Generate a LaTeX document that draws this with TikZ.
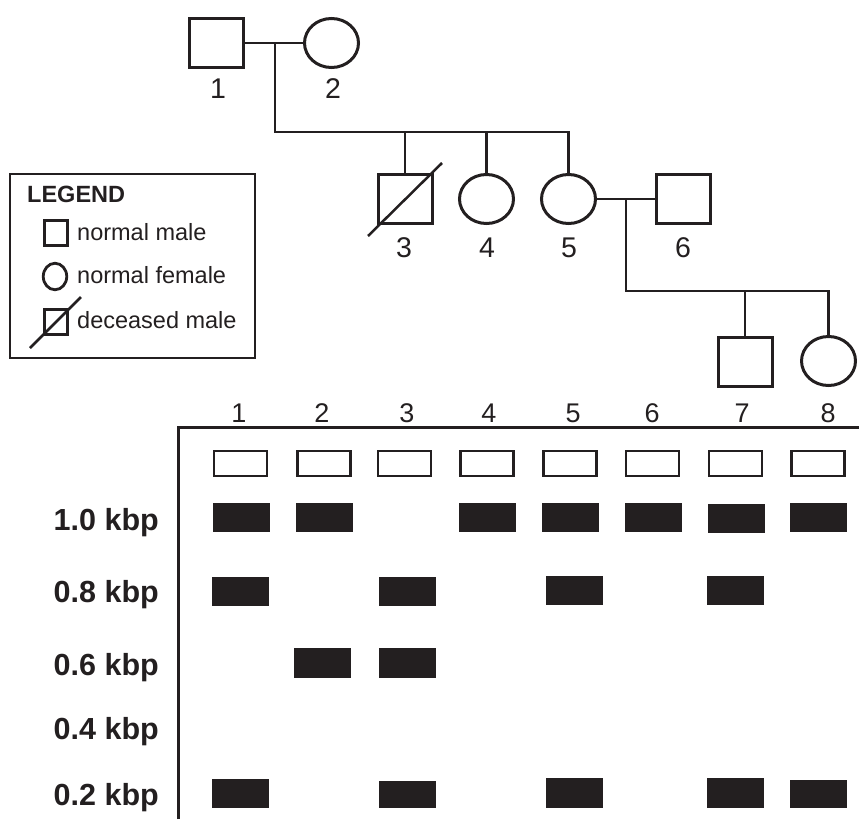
\documentclass[tikz,border=0pt]{standalone}
\usepackage{fontspec}
\setmainfont{Liberation Sans}
\usetikzlibrary{shapes.geometric}
\definecolor{ink}{HTML}{231F20}
\begin{document}
\begin{tikzpicture}[x=1pt,y=-1pt,
  male/.style={draw=ink,line width=3pt,rectangle,minimum width=54pt,minimum height=49pt,inner sep=0pt},
  female/.style={draw=ink,line width=3pt,ellipse,minimum width=54pt,minimum height=49pt,inner sep=0pt},
  conn/.style={draw=ink,line width=2.5pt},
  num/.style={font=\fontsize{28.5}{33}\selectfont,anchor=base,inner sep=0pt,text=ink},
  lane/.style={font=\fontsize{27}{32}\selectfont,anchor=base,inner sep=0pt,text=ink},
  well/.style={draw=ink,line width=2.8pt,rectangle,minimum width=53pt,minimum height=25pt,inner sep=0pt},
  band/.style={fill=ink,rectangle,minimum width=57pt,minimum height=29pt,inner sep=0pt},
  kbp/.style={font=\fontsize{30.5}{36}\selectfont\bfseries,anchor=base east,inner sep=0pt,text=ink},
  legtext/.style={font=\fontsize{23.5}{28}\selectfont,anchor=base west,inner sep=0pt,text=ink},
  lmale/.style={draw=ink,line width=2.8pt,rectangle,minimum width=23.5pt,minimum height=25.5pt,inner sep=0pt},
  lfemale/.style={draw=ink,line width=2.8pt,ellipse,minimum width=23.5pt,minimum height=26.5pt,inner sep=0pt}
]
\useasboundingbox (0,0) rectangle (859,819);

% ---------- pedigree ----------
\node[male]   (i1) at (216.5,43) {};
\node[female] (i2) at (331.5,43) {};
\node[male]   (i3) at (405,199) {};
\node[female] (i4) at (486.5,199) {};
\node[female] (i5) at (568.5,199) {};
\node[male]   (i6) at (683.5,199) {};
\node[male]   (i7) at (745,362) {};
\node[female] (i8) at (828.5,361) {};

\node[num] (n1) at (218,98) {1};
\node[num] (n2) at (333,98) {2};
\node[num] (n3) at (404,257) {3};
\node[num] (n4) at (487,257) {4};
\node[num] (n5) at (569,257) {5};
\node[num] (n6) at (683,257) {6};

\coordinate (m12) at (275,43);
\coordinate (sib1) at (275,132);
\draw[conn] (i1.east) -- (i2.west);
\draw[conn] (m12) -- (sib1) -- (i5.north |- sib1) -- (i5.north);
\draw[conn] (i3.north |- sib1) -- (i3.north);
\draw[conn] (i4.north |- sib1) -- (i4.north);
\draw[conn] ([shift={(-37,37)}]i3.center) -- ([shift={(37,-36)}]i3.center);

\coordinate (m56) at (626,199);
\coordinate (sib2) at (626,291);
\draw[conn] (i5.east) -- (i6.west);
\draw[conn] (m56) -- (sib2) -- (i8.north |- sib2) -- (i8.north);
\draw[conn] (i7.north |- sib2) -- (i7.north);

% ---------- legend ----------
\node[draw=ink,line width=2pt,minimum width=245pt,minimum height=184pt,anchor=north west,inner sep=0pt] (legend) at (9,173) {};
\node[font=\fontsize{23.5}{28}\selectfont\bfseries,anchor=base west,inner sep=0pt,text=ink] (legtitle) at (27,202) {LEGEND};
\node[lmale] (lm) at (56,233) {};
\node[lfemale] (lf) at (55,276.5) {};
\node[lmale] (ld) at (56,322) {};
\draw[conn] ([shift={(-26,26)}]ld.center) -- ([shift={(25,-25)}]ld.center);
\node[legtext] (tm) at (77,240) {normal male};
\node[legtext] (tf) at (77,283) {normal female};
\node[legtext] (td) at (77,328) {deceased male};

% ---------- gel ----------
\coordinate (gbl) at (178,819);
\coordinate (gtl) at (178,427);
\coordinate (gtr) at (859,427);
\draw[draw=ink,line width=3pt] (gbl) -- (gtl) -- (gtr);

\node[lane] (l1) at (239,422) {1};
\node[lane] (l2) at (322,422) {2};
\node[lane] (l3) at (407,422) {3};
\node[lane] (l4) at (489,422) {4};
\node[lane] (l5) at (573,422) {5};
\node[lane] (l6) at (652,422) {6};
\node[lane] (l7) at (742,422) {7};
\node[lane] (l8) at (828,422) {8};

\node[well] (w1) at (240.5,463.5) {};
\node[well] (w2) at (324,463.5) {};
\node[well] (w3) at (404.5,463.5) {};
\node[well] (w4) at (487,463.5) {};
\node[well] (w5) at (570,463.5) {};
\node[well] (w6) at (652.5,463.5) {};
\node[well] (w7) at (735.5,463.5) {};
\node[well] (w8) at (818,463.5) {};

% 1.0 kbp
\node[band] (a1) at (241,517.5) {};
\node[band] (a2) at (324,517.5) {};
\node[band] (a4) at (487.5,517.5) {};
\node[band] (a5) at (570.5,517.5) {};
\node[band] (a6) at (653,517) {};
\node[band] (a7) at (736.5,518.5) {};
\node[band] (a8) at (818.5,517.5) {};
% 0.8 kbp
\node[band] (b1) at (240.5,591) {};
\node[band] (b3) at (407,591) {};
\node[band] (b5) at (574.5,590.5) {};
\node[band] (b7) at (735.5,590.5) {};
% 0.6 kbp
\node[band,minimum height=30pt] (c2) at (322.5,663) {};
\node[band,minimum height=30pt] (c3) at (407,663) {};
% 0.2 kbp
\node[band] (e1) at (240.5,793.5) {};
\node[band,minimum height=27pt] (e3) at (407,794.5) {};
\node[band,minimum height=30pt] (e5) at (574.5,793) {};
\node[band,minimum height=30pt] (e7) at (735.5,793) {};
\node[band,minimum height=28pt] (e8) at (818.5,794) {};

\node[kbp] (k10) at (159,530) {1.0 kbp};
\node[kbp] (k08) at (159,602) {0.8 kbp};
\node[kbp] (k06) at (159,675) {0.6 kbp};
\node[kbp] (k04) at (159,739) {0.4 kbp};
\node[kbp] (k02) at (159,805) {0.2 kbp};
\end{tikzpicture}
\end{document}
